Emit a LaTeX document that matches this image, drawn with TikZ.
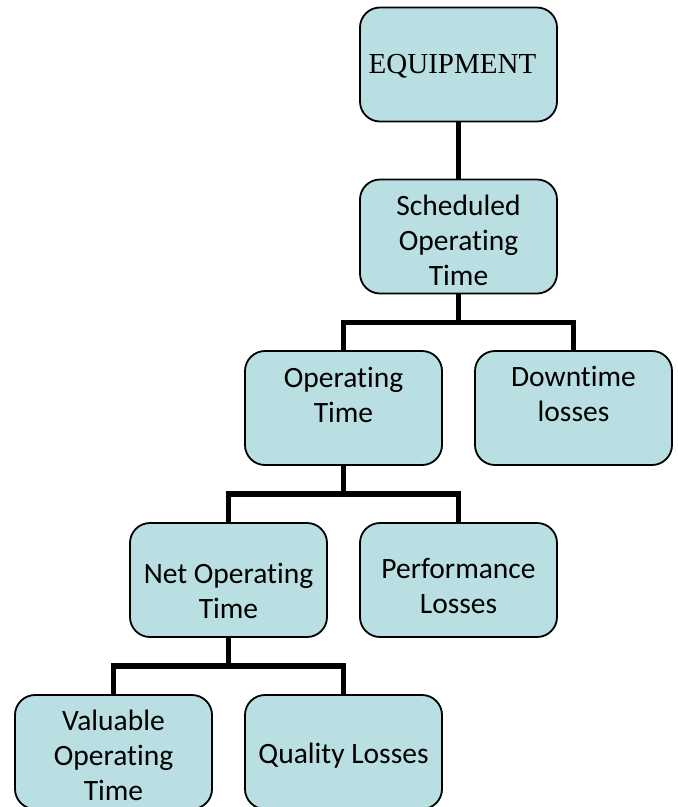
\documentclass[tikz,border=0pt]{standalone}
\usepackage{fontspec}
\setmainfont[Ligatures={NoCommon}]{Carlito}
\newfontfamily\serifeq{Liberation Serif}
\definecolor{boxfill}{HTML}{B9DFE3}
\begin{document}
\begin{tikzpicture}[x=1pt,y=1pt,
  box/.style={draw=black,line width=1.8pt,fill=boxfill,rounded corners=20pt,
    minimum width=197pt,minimum height=114pt,inner sep=0pt,outer sep=0pt},
  txt/.style={align=center,inner sep=0pt,font=\fontsize{29.5}{35}\selectfont},
  conn/.style={draw=black,line width=5.5pt,line join=miter}]
\useasboundingbox (0,0) rectangle (678,-807);
% boxes
\node[box] (eq) at (458.5,-64.5) {};
\node[box] (sched) at (458.5,-236.5) {};
\node[box] (op) at (343.5,-408) {};
\node[box] (down) at (573.5,-408) {};
\node[box] (net) at (228.5,-580) {};
\node[box] (perf) at (458.5,-580) {};
\node[box] (val) at (113.5,-752) {};
\node[box] (qual) at (343.5,-752) {};
% connectors
\draw[conn] (eq.south) -- (sched.north);
\draw[conn] (sched.south) -- ++(0,-29) coordinate (b1);
\draw[conn] (op.north) |- (b1) -| (down.north);
\draw[conn] (op.south) -- ++(0,-29) coordinate (b2);
\draw[conn] (net.north) |- (b2) -| (perf.north);
\draw[conn] (net.south) -- ++(0,-29) coordinate (b3);
\draw[conn] (val.north) |- (b3) -| (qual.north);
% texts
\node[inner sep=0pt,font=\serifeq\fontsize{29}{35}\selectfont] (eqt) at (452.5,-66) {EQUIPMENT};
\node[txt] (schedt) at (458.5,-240) {Scheduled\\Operating\\Time};
\node[txt] (opt) at (343.5,-395) {Operating\\Time};
\node[txt] (downt) at (573.5,-394) {Downtime\\losses};
\node[txt] (nett) at (228.5,-591) {Net Operating\\Time};
\node[txt] (perft) at (458.5,-586) {Performance\\Losses};
\node[txt] (valt) at (113.5,-755) {Valuable\\Operating\\Time};
\node[txt] (qualt) at (343.5,-756) {Quality Losses};
\end{tikzpicture}
\end{document}
